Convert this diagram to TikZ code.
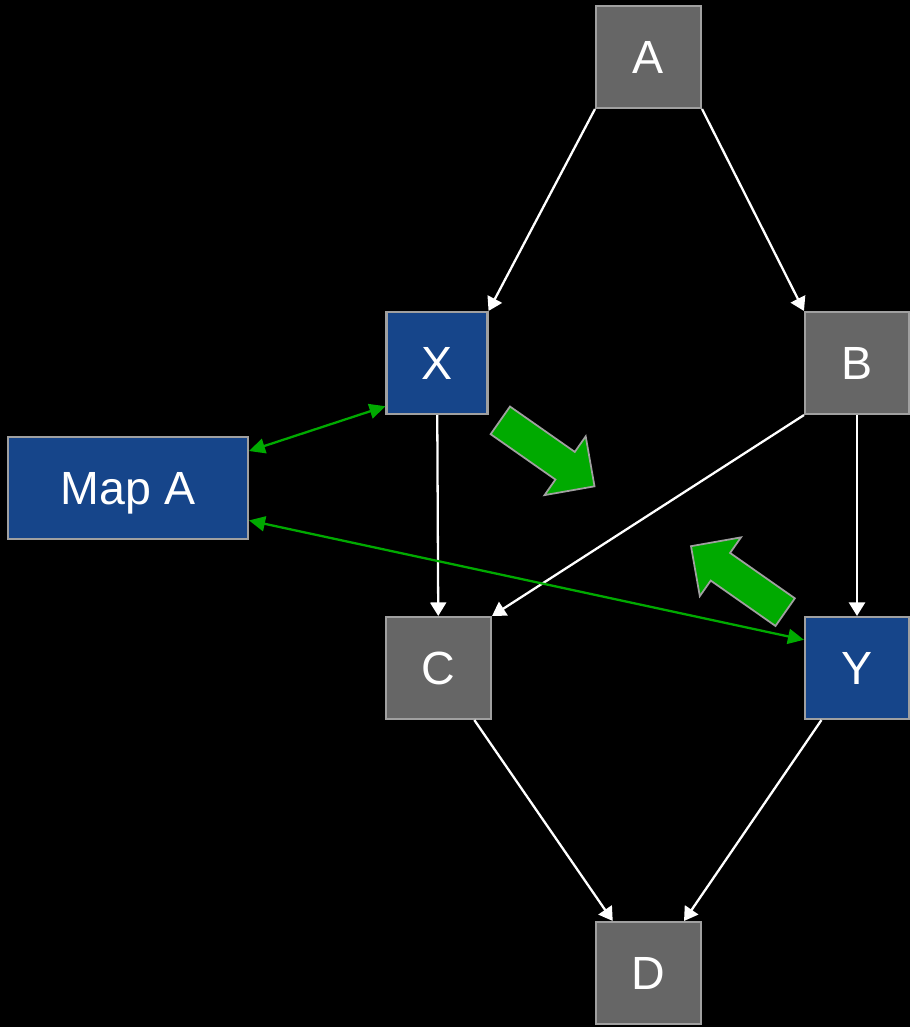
\documentclass[tikz,border=0pt]{standalone}
\usepackage{fontspec}
\setmainfont{Liberation Sans}
\usetikzlibrary{arrows.meta,shapes.arrows}

\definecolor{boxgray}{RGB}{102,102,102}
\definecolor{boxblue}{RGB}{22,69,138}
\definecolor{rimgray}{RGB}{160,160,160}
\definecolor{linkgreen}{RGB}{0,170,0}

\begin{document}
\begin{tikzpicture}[
x=0.02cm, y=-0.02cm,
box/.style={
  draw=rimgray,
  line width=1.2pt,
  fill=boxgray,
  text=white,
  inner sep=0pt,
  minimum width=2.1cm,
  minimum height=2.04cm,
  text height=0.66cm,
  text depth=0pt,
  font=\fontsize{26.5}{30}\selectfont
  },
bluebox/.style={
  box,
  fill=boxblue
  },
flow/.style={
  draw=white,
  line width=1.3pt,
  -{Triangle[length=0.27cm,width=0.32cm]}
  },
link/.style={
  draw=linkgreen,
  line width=1.3pt,
  {Triangle[length=0.32cm,width=0.3cm]}-{Triangle[length=0.32cm,width=0.3cm]}
  },
hint/.style={
  single arrow,
  draw=rimgray,
  line width=1pt,
  fill=linkgreen,
  inner xsep=0pt,
  inner ysep=0.32cm,
  minimum height=2.3cm,
  single arrow head extend=0.38cm
  }
]
% background
\fill[black] (0,0) rectangle (910,1027);
\useasboundingbox (0,0) rectangle (910,1027);

\node[box] (a) at (648.5,57) {A};
\node[bluebox, minimum width=2.02cm] (x) at (437,363) {X};
\node[box, minimum width=2.08cm] (b) at (857,363) {B};
\node[bluebox, minimum width=4.8cm] (mapa) at (128,488) {Map A};
\node[box] (c) at (438.5,668) {C};
\node[bluebox, minimum width=2.08cm] (y) at (857,668) {Y};
\node[box] (d) at (648.5,973) {D};

\draw[flow] (a.south west) -- (x.north east);
\draw[flow] (a.south east) -- (b.north west);
\draw[flow] (x) -- (c);
\draw[flow] (b.south west) -- (c.north east);
\draw[flow] (b) -- (y);
\draw[flow] (c) -- (d);
\draw[flow] (y) -- (d);

\draw[link] (mapa.17) -- (x.220);
\draw[link] (mapa.-15) -- (y.152);

\node[hint, rotate=-35] (down) at (540.5,448.5) {};
\node[hint, rotate=145] (up) at (745,584) {};

\end{tikzpicture}
\end{document}
